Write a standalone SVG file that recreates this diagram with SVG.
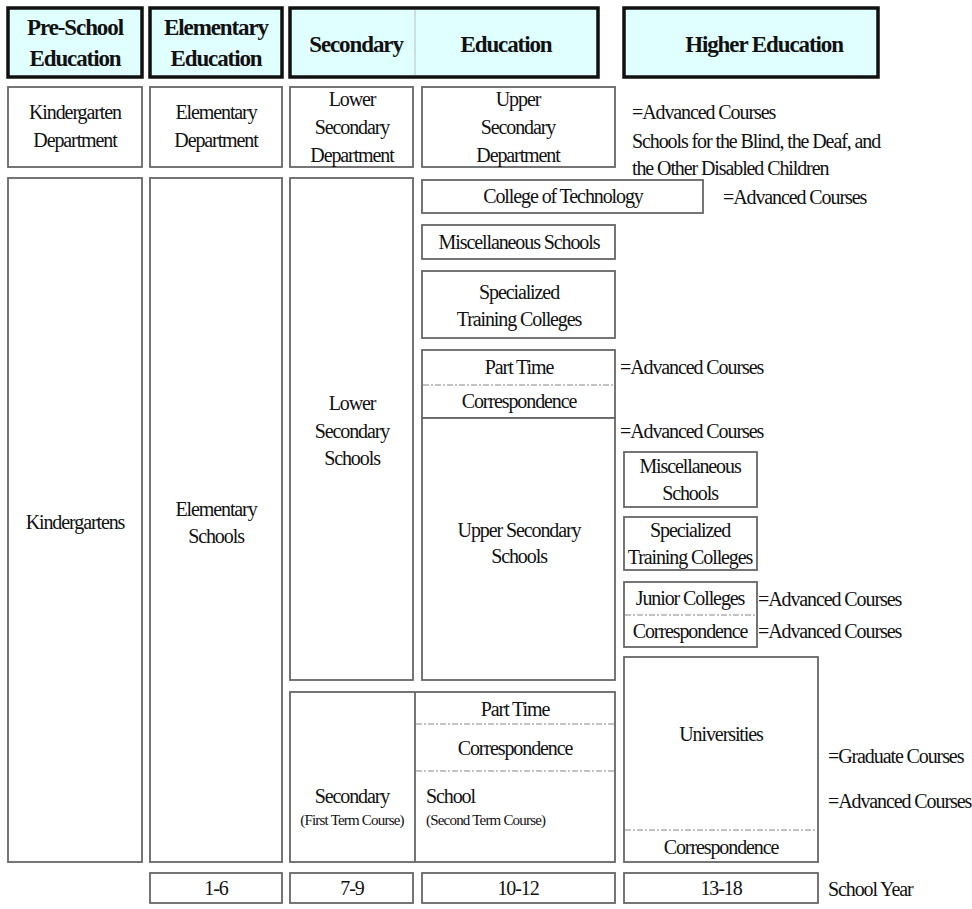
<svg xmlns="http://www.w3.org/2000/svg" width="972" height="909" viewBox="0 0 972 909">
<style>
  .hdr { fill: #E0FFFF; stroke: #111; stroke-width: 3.5; }
  .box { fill: #fff; stroke: #666; stroke-width: 1.8; }
  .dash { stroke: #888; stroke-width: 1.2; stroke-dasharray: 6 2 2 2; fill: none; }
  .div { stroke: #666; stroke-width: 1.8; }
  .hdiv { stroke: #bbb; stroke-width: 1; }
  text { font-family: "Times New Roman", Times, "Liberation Serif", Tinos, "DejaVu Serif", serif; fill: #111; }
  .h { font-size: 23px; font-weight: bold; letter-spacing: -1.1px; text-anchor: middle; }
  .t { font-size: 20px; letter-spacing: -1.1px; text-anchor: middle; }
  .l { font-size: 20px; letter-spacing: -1.1px; text-anchor: start; }
  .s { font-size: 15px; letter-spacing: -0.8px; }
  .m { text-anchor: middle; }
</style>
<rect width="972" height="909" fill="#fff"/>

<!-- Header row -->
<g id="hdr-preschool">
  <rect class="hdr" x="8" y="8" width="134" height="69"/>
  <text class="h" x="75" y="35">Pre-School</text>
  <text class="h" x="75" y="66">Education</text>
</g>
<g id="hdr-elementary">
  <rect class="hdr" x="150" y="8" width="132" height="69"/>
  <text class="h" x="216" y="35">Elementary</text>
  <text class="h" x="216" y="66">Education</text>
</g>
<g id="hdr-secondary">
  <rect class="hdr" x="290" y="8" width="308" height="69"/>
  <line class="hdiv" x1="415" y1="10" x2="415" y2="75"/>
  <text class="h" x="356" y="52">Secondary</text>
  <text class="h" x="506" y="52">Education</text>
</g>
<g id="hdr-higher">
  <rect class="hdr" x="624" y="8" width="254" height="69"/>
  <text class="h" x="764" y="52">Higher Education</text>
</g>

<!-- Department row -->
<g id="kindergarten-dept">
  <rect class="box" x="8" y="87" width="134" height="80"/>
  <text class="t" x="75" y="119">Kindergarten</text>
  <text class="t" x="75" y="147">Department</text>
</g>
<g id="elementary-dept">
  <rect class="box" x="150" y="87" width="132" height="80"/>
  <text class="t" x="216" y="119">Elementary</text>
  <text class="t" x="216" y="147">Department</text>
</g>
<g id="lower-secondary-dept">
  <rect class="box" x="290" y="87" width="123" height="80"/>
  <text class="t" x="352" y="106">Lower</text>
  <text class="t" x="352" y="134">Secondary</text>
  <text class="t" x="352" y="162">Department</text>
</g>
<g id="upper-secondary-dept">
  <rect class="box" x="422" y="87" width="193" height="80"/>
  <text class="t" x="518" y="106">Upper</text>
  <text class="t" x="518" y="134">Secondary</text>
  <text class="t" x="518" y="162">Department</text>
</g>
<g id="special-schools-note">
  <text class="l" x="632" y="119">=Advanced Courses</text>
  <text class="l" x="632" y="148">Schools for the Blind, the Deaf, and</text>
  <text class="l" x="632" y="175">the Other Disabled Children</text>
</g>

<!-- Main columns -->
<g id="kindergartens">
  <rect class="box" x="8" y="178" width="134" height="684"/>
  <text class="t" x="75" y="529">Kindergartens</text>
</g>
<g id="elementary-schools">
  <rect class="box" x="150" y="178" width="132" height="684"/>
  <text class="t" x="216" y="516">Elementary</text>
  <text class="t" x="216" y="543">Schools</text>
</g>
<g id="lower-secondary-schools">
  <rect class="box" x="290" y="178" width="123" height="502"/>
  <text class="t" x="352" y="410">Lower</text>
  <text class="t" x="352" y="438">Secondary</text>
  <text class="t" x="352" y="465">Schools</text>
</g>
<g id="college-of-technology">
  <rect class="box" x="422" y="180" width="281" height="33"/>
  <text class="t" x="563" y="203">College of Technology</text>
  <text class="l" x="723" y="204">=Advanced Courses</text>
</g>
<g id="misc-schools-sec">
  <rect class="box" x="422" y="225" width="193" height="34"/>
  <text class="t" x="519" y="249">Miscellaneous Schools</text>
</g>
<g id="specialized-sec">
  <rect class="box" x="422" y="271" width="193" height="67"/>
  <text class="t" x="519" y="299">Specialized</text>
  <text class="t" x="519" y="326">Training Colleges</text>
</g>
<g id="upper-parttime-corr">
  <rect class="box" x="422" y="350" width="193" height="68"/>
  <line class="dash" x1="423" y1="385" x2="614" y2="385"/>
  <text class="t" x="519" y="374">Part Time</text>
  <text class="t" x="519" y="408">Correspondence</text>
  <text class="l" x="620" y="374">=Advanced Courses</text>
</g>
<g id="upper-secondary-schools">
  <rect class="box" x="422" y="418" width="193" height="262"/>
  <text class="t" x="519" y="537">Upper Secondary</text>
  <text class="t" x="519" y="563">Schools</text>
  <text class="l" x="620" y="438">=Advanced Courses</text>
</g>
<g id="misc-schools-higher">
  <rect class="box" x="624" y="452" width="133" height="55"/>
  <text class="t" x="690" y="473">Miscellaneous</text>
  <text class="t" x="690" y="500">Schools</text>
</g>
<g id="specialized-higher">
  <rect class="box" x="624" y="517" width="133" height="53"/>
  <text class="t" x="690" y="537">Specialized</text>
  <text class="t" x="690" y="564">Training Colleges</text>
</g>
<g id="junior-colleges">
  <rect class="box" x="624" y="582" width="133" height="65"/>
  <line class="dash" x1="625" y1="615" x2="756" y2="615"/>
  <text class="t" x="690" y="605">Junior Colleges</text>
  <text class="t" x="690" y="638">Correspondence</text>
  <text class="l" x="758" y="606">=Advanced Courses</text>
  <text class="l" x="758" y="638">=Advanced Courses</text>
</g>
<g id="universities">
  <rect class="box" x="624" y="657" width="194" height="205"/>
  <line class="dash" x1="625" y1="830" x2="817" y2="830"/>
  <text class="t" x="721" y="741">Universities</text>
  <text class="t" x="721" y="854">Correspondence</text>
  <text class="l" x="828" y="763">=Graduate Courses</text>
  <text class="l" x="828" y="808">=Advanced Courses</text>
</g>
<g id="secondary-school">
  <rect class="box" x="290" y="692" width="325" height="170"/>
  <line class="div" x1="415" y1="692" x2="415" y2="862"/>
  <line class="dash" x1="416" y1="724" x2="614" y2="724"/>
  <line class="dash" x1="416" y1="771" x2="614" y2="771"/>
  <text class="t" x="515" y="716">Part Time</text>
  <text class="t" x="515" y="755">Correspondence</text>
  <text class="t" x="352" y="803">Secondary</text>
  <text class="s m" x="352" y="825">(First Term Course)</text>
  <text class="l" x="426" y="803">School</text>
  <text class="s" x="426" y="825">(Second Term Course)</text>
</g>

<!-- School year row -->
<g id="year-1-6">
  <rect class="box" x="150" y="873" width="132" height="30"/>
  <text class="t" x="216" y="895">1-6</text>
</g>
<g id="year-7-9">
  <rect class="box" x="290" y="873" width="123" height="30"/>
  <text class="t" x="352" y="895">7-9</text>
</g>
<g id="year-10-12">
  <rect class="box" x="422" y="873" width="193" height="30"/>
  <text class="t" x="518" y="895">10-12</text>
</g>
<g id="year-13-18">
  <rect class="box" x="624" y="873" width="194" height="30"/>
  <text class="t" x="721" y="895">13-18</text>
</g>
<g id="school-year-label">
  <text class="l" x="828" y="896">School Year</text>
</g>

<g id="connectors"></g>
</svg>
